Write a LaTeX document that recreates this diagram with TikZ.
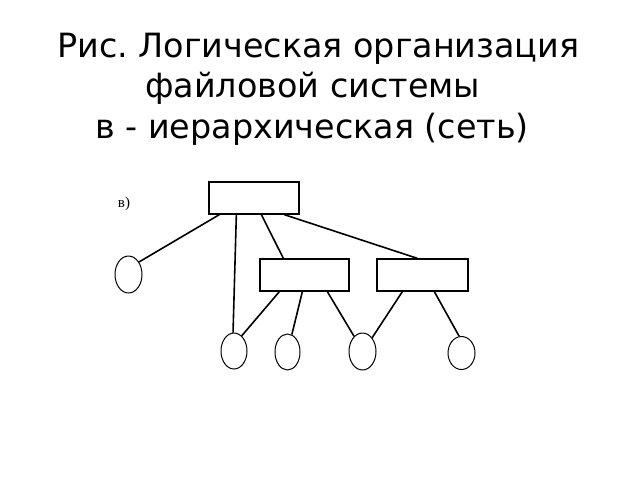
\documentclass[tikz,border=0pt]{standalone}
\usepackage{fontspec}
\setmainfont{DejaVu Sans}
\newfontfamily\lblfont{Liberation Serif}
\usetikzlibrary{shapes.geometric,calc}
\frenchspacing
\begin{document}
\begin{tikzpicture}[x=1pt,y=-1pt,
  titletext/.style={anchor=base west,inner sep=0pt,font=\fontsize{33.4}{40}\selectfont},
  filebox/.style={draw,line width=1.3pt,rectangle,minimum width=#1,minimum height=32pt,inner sep=0pt},
  fileoval/.style={draw,line width=1pt,ellipse,inner sep=0pt},
  link/.style={line width=1.6pt}]
\useasboundingbox (0,0) rectangle (640,480);
\node[titletext] (t1) at (57,57) {Рис. Логическая организация};
\node[titletext] (t2) at (145,97) {файловой системы};
\node[titletext] (t3) at (95,138) {в - иерархическая (сеть)};
\node[inner sep=0pt,font=\lblfont\fontsize{15}{17}\selectfont] (lbl) at (124,204) {в)};
% boxes
\node[filebox=90pt] (top) at (254,198) {};
\node[filebox=89pt] (m1) at (304.5,275) {};
\node[filebox=91pt] (m2) at (422.5,275) {};
% ovals
\node[fileoval,minimum width=27pt,minimum height=37pt] (L) at (128.5,274.5) {};
\node[fileoval,minimum width=26pt,minimum height=36pt] (b1) at (234,351) {};
\node[fileoval,minimum width=25pt,minimum height=36pt] (b2) at (287.5,352) {};
\node[fileoval,minimum width=27pt,minimum height=37pt] (b3) at (362.5,351.5) {};
\node[fileoval,minimum width=27pt,minimum height=33pt] (b4) at (461.5,353) {};
% connectors
\draw[link] ($(top.south west)+(11,0)$) -- (L.50);
\draw[link] ($(top.south west)+(28,0)$) -- (b1.93);
\draw[link] ($(top.south west)+(53,0)$) -- ($(m1.north west)+(24,0)$);
\draw[link] ($(top.south west)+(76,0)$) -- ($(m2.north west)+(41,0)$);
\draw[link] ($(m1.south west)+(20,0)$) -- (b1.63);
\draw[link] ($(m1.south west)+(43,0)$) -- (b2.76);
\draw[link] ($(m1.south west)+(68,0)$) -- (b3.119);
\draw[link] ($(m2.south west)+(26,0)$) -- (b3.55);
\draw[link] ($(m2.south west)+(58,0)$) -- (b4.98);
\end{tikzpicture}
\end{document}
